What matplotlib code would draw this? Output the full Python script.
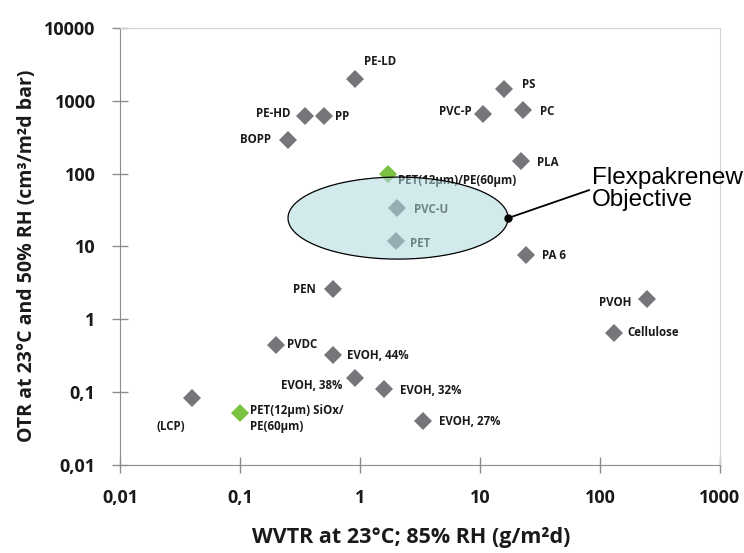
#Barrier properties of packaging films: OTR vs WVTR on log-log axes

import numpy as np
import matplotlib
matplotlib.use('Agg')
import matplotlib.pyplot as plt

# material data (WVTR g/m2d, OTR cm3/m2d bar)
names = ['PE-LD', 'PE-HD', 'PP', 'BOPP', 'PS', 'PVC-P', 'PC', 'PLA',
         'PVC-U', 'PET', 'PA 6', 'PEN', 'PVOH', 'Cellulose', 'PVDC',
         'EVOH, 44%', 'EVOH, 38%', 'EVOH, 32%', 'EVOH, 27%', '(LCP)']
wvtr = [0.9, 0.35, 0.5, 0.25, 16, 10.5, 23, 22,
        2.05, 2.0, 24, 0.6, 245, 131, 0.2,
        0.6, 0.9, 1.58, 3.35, 0.04]
otr = [2000, 610, 610, 290, 1450, 650, 750, 150,
       34, 12, 7.6, 2.6, 1.9, 0.65, 0.45,
       0.32, 0.155, 0.112, 0.04, 0.083]

# laminates (green)
lam_names = ['PET(12µm)/PE(60µm)', 'PET(12µm) SiOx/\nPE(60µm)']
lam_wvtr = [1.7, 0.1]
lam_otr = [100, 0.0515]

# objective region (log10 centre and half widths)
obj_logx, obj_logy = 0.317, 1.39
obj_rx, obj_ry = 0.917, 0.563

xticks = [0.01, 0.1, 1, 10, 100, 1000]
xticklabels = ['0,01', '0,1', '1', '10', '100', '1000']
yticks = [0.01, 0.1, 1, 10, 100, 1000, 10000]
yticklabels = ['0,01', '0,1', '1', '10', '100', '1000', '10000']

# label placement: (dx, dy) in pixels, horizontal alignment
name_pos = {
    'PE-LD': (9, 17, 'left'), 'PE-HD': (-15, 3, 'right'), 'PP': (11, 0, 'left'),
    'BOPP': (-17, 0, 'right'), 'PS': (18, 5, 'left'), 'PVC-P': (-11, 3, 'right'),
    'PC': (17, -2, 'left'), 'PLA': (16, -2, 'left'), 'PVC-U': (17, -2, 'left'),
    'PET': (14, -3, 'left'), 'PA 6': (16, 0, 'left'), 'PEN': (-18, 0, 'right'),
    'PVOH': (-15, -3, 'right'), 'Cellulose': (13, 0, 'left'),
    'PVDC': (11, 0, 'left'), 'EVOH, 44%': (14, 0, 'left'),
    'EVOH, 38%': (-12, -7, 'right'), 'EVOH, 32%': (16, -2, 'left'),
    'EVOH, 27%': (16, 0, 'left'), '(LCP)': (-21, -28, 'center'),
}
lam_pos = [(10, -7, 'left'), (10, -5, 'left')]

gray = '#76767a'
green = '#7cc242'
axcol = '#8c8c8c'
font = 'Open Sans'

fig = plt.figure(figsize=(7.44, 5.53), dpi=100)
ax = fig.add_axes([0.1613, 0.1591, 0.8064, 0.7903])
ax.set_xscale('log')
ax.set_yscale('log')
ax.set_xlim(0.01, 1000)
ax.set_ylim(0.01, 10000)

ax.plot(wvtr, otr, 'D', color=gray, ms=9.3, mew=0, zorder=3)
ax.plot(lam_wvtr, lam_otr, 'D', color=green, ms=9.3, mew=0, zorder=3)

px = 72. / fig.dpi
for n, x, y in zip(names, wvtr, otr):
    dx, dy, ha = name_pos[n]
    ax.annotate(n, (x, y), xytext=(dx * px, dy * px), textcoords='offset points',
                ha=ha, va='center', fontsize=8.3, family=font, weight='bold',
                color='#1a1a1a', zorder=4)
for n, x, y, (dx, dy, ha) in zip(lam_names, lam_wvtr, lam_otr, lam_pos):
    ax.annotate(n, (x, y), xytext=(dx * px, dy * px), textcoords='offset points',
                ha=ha, va='center', fontsize=8.3, family=font, weight='bold',
                color='#1a1a1a', linespacing=1.3, zorder=4)

# objective ellipse drawn over the points, semi transparent
t = np.linspace(0, 2 * np.pi, 400)
ex = 10 ** (obj_logx + obj_rx * np.cos(t))
ey = 10 ** (obj_logy + obj_ry * np.sin(t))
ax.fill(ex, ey, color='#b0d9de', alpha=0.55, lw=0, zorder=5)
ax.plot(ex, ey, color='black', lw=0.9, zorder=6)

dot = (10 ** (obj_logx + obj_rx), 10 ** obj_logy)
ax.plot(*dot, 'o', color='black', ms=5, zorder=7)
ax.annotate('Flexpakrenew\nObjective', dot, xytext=(84 * px, 29 * px),
            textcoords='offset points', ha='left', va='center',
            fontsize=17.5, family='Liberation Sans', linespacing=1.0,
            arrowprops=dict(arrowstyle='-', color='black', lw=1.3,
                            shrinkA=0, shrinkB=0, relpos=(0, 0.5)),
            zorder=8)

ax.set_xticks(xticks)
ax.set_xticklabels(xticklabels)
ax.set_yticks(yticks)
ax.set_yticklabels(yticklabels)
ax.minorticks_off()
ax.tick_params(direction='inout', length=11, width=1, color=axcol, pad=12,
               labelsize=13)
for lab in ax.get_xticklabels() + ax.get_yticklabels():
    lab.set_family(font)
    lab.set_weight('bold')
    lab.set_color('#1a1a1a')

for s in ['left', 'bottom']:
    ax.spines[s].set_color(axcol)
for s in ['top', 'right']:
    ax.spines[s].set_color('#d4d4d4')

ax.set_xlabel('WVTR at 23°C; 85% RH (g/m²d)', family=font, weight='bold',
              fontsize=15.5, color='#1a1a1a')
ax.set_ylabel('OTR at 23°C and 50% RH (cm³/m²d bar)', family=font,
              weight='bold', fontsize=14, color='#1a1a1a')
ax.xaxis.set_label_coords(0.485, -0.142)
ax.yaxis.set_label_coords(-0.138, 0.478)

fig.savefig('out.png', dpi=100)
